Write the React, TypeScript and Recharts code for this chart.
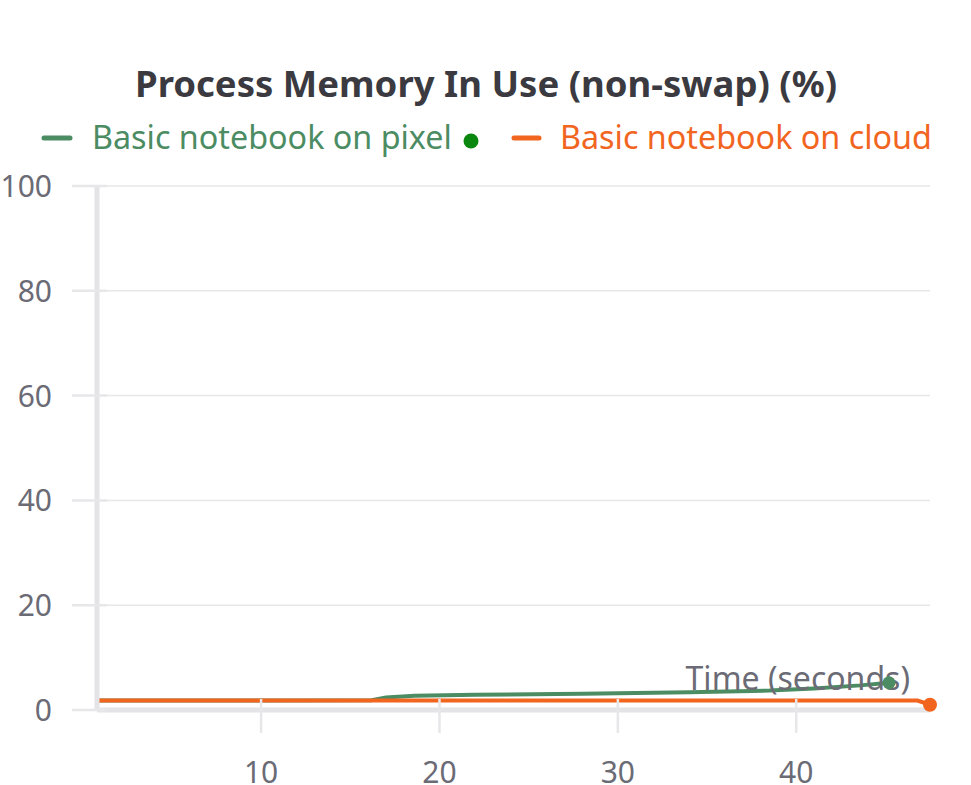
import React from 'react';
import { LineChart, Line, XAxis, YAxis, CartesianGrid } from 'recharts';

const pixelTime = [0.8, 5, 10, 16.2, 17.0, 18.6, 22, 28, 34, 38.5, 41, 43.6, 45.2];
const pixelValue = [1.8, 1.8, 1.8, 1.85, 2.4, 2.7, 2.9, 3.1, 3.4, 3.7, 4.1, 4.7, 5.2];
const cloudTime = [0.8, 10, 20, 30, 40, 46.8, 47.5];
const cloudValue = [1.8, 1.8, 1.8, 1.8, 1.8, 1.8, 1.0];
const xTicks = [10, 20, 30, 40];
const yTicks = [0, 20, 40, 60, 80, 100];
const seriesNames = ['Basic notebook on pixel', 'Basic notebook on cloud'];
const title = 'Process Memory In Use (non-swap) (%)';
const xLabel = 'Time (seconds)';

const pixelData = pixelTime.map((t, i) => ({ t, v: pixelValue[i] }));
const cloudData = cloudTime.map((t, i) => ({ t, v: cloudValue[i] }));

const GREEN = '#4c8c63';
const GREEN_DOT = '#0a870f';
const ORANGE = '#f2651f';
const GRID = '#e7e7ea';
const AXIS = '#e4e4e7';
const TEXT = '#6b6b76';
const FONT = '"Noto Sans", "Open Sans", sans-serif';

const YTick = (props: any) => {
  const { x, y, payload } = props;
  return (
    <g>
      <line x1={x - 19} x2={x + 16} y1={y} y2={y} stroke={GRID} strokeWidth={2.5} />
      <text x={52} y={y} dy={11} textAnchor="end" fill={TEXT} fontSize={30} fontFamily={FONT}>
        {payload.value}
      </text>
    </g>
  );
};

const XTick = (props: any) => {
  const { x, y, payload } = props;
  return (
    <g>
      <line x1={x} x2={x} y1={y - 17} y2={y + 17} stroke={GRID} strokeWidth={2.5} />
      <text x={x} y={y + 67} textAnchor="middle" fill={TEXT} fontSize={30} fontFamily={FONT}>
        {payload.value}
      </text>
    </g>
  );
};

const lastDot = (len: number, color: string, r: number) => (props: any) => {
  const { cx, cy, index } = props;
  if (index !== len - 1) return <g key={`d${index}`} />;
  return <circle key={`d${index}`} cx={cx} cy={cy} r={r} fill={color} stroke="none" />;
};

const XLabel = (props: any) => {
  const vb = props.viewBox;
  return (
    <text x={vb.x + vb.width - 20} y={vb.y - 20} textAnchor="end" fill={TEXT} fontSize={32} fontFamily={FONT}>
      {xLabel}
    </text>
  );
};

export default function App() {
  return (
    <div style={{ position: 'absolute', left: 0, top: 0, width: 971, height: 785, background: '#fff' }}>
      <svg width={971} height={180} style={{ position: 'absolute', left: 0, top: 0 }}>
        <text x={486} y={97} textAnchor="middle" fill="#3a3a40" fontSize={36.5} fontWeight={700} fontFamily={FONT}>
          {title}
        </text>
        <line x1={44} x2={70} y1={138} y2={138} stroke={GREEN} strokeWidth={5} strokeLinecap="round" />
        <text x={92} y={149} fill={GREEN} fontSize={32.3} fontFamily={FONT}>{seriesNames[0]}</text>
        <circle cx={471} cy={141} r={7.5} fill={GREEN_DOT} />
        <line x1={514} x2={539} y1={138} y2={138} stroke={ORANGE} strokeWidth={5} strokeLinecap="round" />
        <text x={560} y={149} fill={ORANGE} fontSize={32.3} fontFamily={FONT}>{seriesNames[1]}</text>
      </svg>
      <div style={{ position: 'absolute', left: 0, top: 0 }}>
        <LineChart width={971} height={785} margin={{ top: 186, right: 41, bottom: 0, left: 0 }}>
          <CartesianGrid horizontal vertical={false} stroke={GRID} strokeWidth={1.5} />
          <XAxis
            dataKey="t"
            type="number"
            domain={[0.8, 47.5]}
            ticks={xTicks}
            height={75}
            tickLine={false}
            tickMargin={0}
            tick={<XTick />}
            axisLine={{ stroke: AXIS, strokeWidth: 5 }}
            label={<XLabel />}
          />
          <YAxis
            type="number"
            domain={[0, 100]}
            ticks={yTicks}
            width={97}
            tickLine={false}
            tickMargin={0}
            tick={<YTick />}
            axisLine={{ stroke: AXIS, strokeWidth: 5 }}
          />
          <Line
            data={pixelData}
            dataKey="v"
            type="linear"
            stroke={GREEN}
            strokeWidth={4}
            dot={lastDot(pixelData.length, GREEN, 6.5)}
            activeDot={false}
            isAnimationActive={false}
          />
          <Line
            data={cloudData}
            dataKey="v"
            type="linear"
            stroke={ORANGE}
            strokeWidth={4}
            dot={lastDot(cloudData.length, ORANGE, 7)}
            activeDot={false}
            isAnimationActive={false}
          />
        </LineChart>
      </div>
    </div>
  );
}
